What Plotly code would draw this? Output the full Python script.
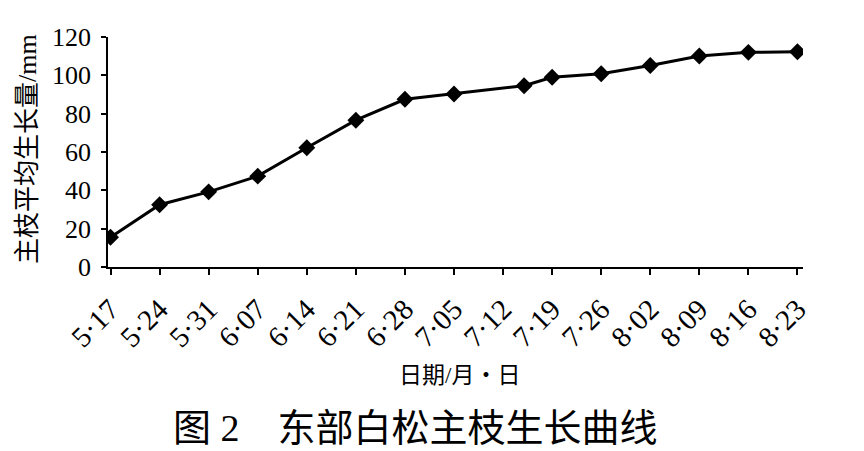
import plotly.graph_objects as go

# Data
dates = ["2010-05-17", "2010-05-24", "2010-05-31", "2010-06-07", "2010-06-14",
         "2010-06-21", "2010-06-28", "2010-07-05", "2010-07-15", "2010-07-19",
         "2010-07-26", "2010-08-02", "2010-08-09", "2010-08-16", "2010-08-23"]
growth = [15.5, 32.5, 39.2, 47.4, 62.2, 76.6, 87.5, 90.3, 94.6, 99.0,
          100.8, 105.1, 110.1, 112.0, 112.3]

tick_dates = ["2010-05-17", "2010-05-24", "2010-05-31", "2010-06-07", "2010-06-14",
              "2010-06-21", "2010-06-28", "2010-07-05", "2010-07-12", "2010-07-19",
              "2010-07-26", "2010-08-02", "2010-08-09", "2010-08-16", "2010-08-23"]
tick_labels = ["5·17", "5·24", "5·31", "6·07", "6·14", "6·21", "6·28", "7·05",
               "7·12", "7·19", "7·26", "8·02", "8·09", "8·16", "8·23"]

y_title = "主枝平均生长量/mm"
x_title = "日期/月<span style='font-family:Noto Sans CJK SC'>·</span>日"
caption = "图 2　东部白松主枝生长曲线"

serif = "Liberation Serif"
mixed = "Liberation Serif, Noto Sans CJK SC"

# The page body adds an 8px offset, so the figure is sized 8px smaller
OFF = 8
W, H = 864 - OFF, 451 - OFF
L, R, T, B = 100, 61, 29, 184
PW, PH = W - L - R, H - T - B


def px(x):
    return (x - OFF - L) / PW


def py(y):
    return (H - B - (y - OFF)) / PH


fig = go.Figure()
fig.add_trace(go.Scatter(
    x=dates, y=growth, mode="lines+markers",
    line=dict(color="black", width=3),
    marker=dict(symbol="diamond", size=13, color="black"),
    showlegend=False,
))

fig.update_layout(
    width=W, height=H,
    margin=dict(l=L, r=R, t=T, b=B, autoexpand=False),
    paper_bgcolor="white", plot_bgcolor="white",
    font=dict(family=serif, color="black"),
    xaxis=dict(
        type="date", automargin=False,
        range=["2010-05-16 15:20", "2010-08-23 19:00"],
        tickmode="array", tickvals=tick_dates, ticktext=tick_labels,
        tickangle=-45,
        tickfont=dict(family=serif, size=29, color="black"),
        ticks="outside", ticklen=6, tickwidth=1.5, tickcolor="black",
        ticklabelstandoff=6,
        showline=True, linecolor="black", linewidth=1.5,
        showgrid=False, zeroline=False,
    ),
    yaxis=dict(
        range=[0, 120], tickvals=[0, 20, 40, 60, 80, 100, 120], automargin=False,
        tickfont=dict(family=serif, size=26, color="black"),
        ticks="outside", ticklen=5, tickwidth=1.5, tickcolor="black",
        ticklabelstandoff=5,
        showline=True, linecolor="black", linewidth=1.5,
        showgrid=False, zeroline=False,
    ),
    annotations=[
        dict(text=y_title, xref="paper", yref="paper",
             x=px(27), y=py(149),
             xanchor="center", yanchor="middle", textangle=-90, showarrow=False,
             font=dict(family=mixed, size=26, color="black")),
        dict(text=x_title, xref="paper", yref="paper",
             x=px(459), y=py(373),
             xanchor="center", yanchor="middle", showarrow=False,
             font=dict(family=mixed, size=23, color="black")),
        dict(text=caption, xref="paper", yref="paper",
             x=px(415), y=py(428),
             xanchor="center", yanchor="middle", showarrow=False,
             font=dict(family=mixed, size=38, color="black")),
    ],
)

fig.write_html("out.html")
